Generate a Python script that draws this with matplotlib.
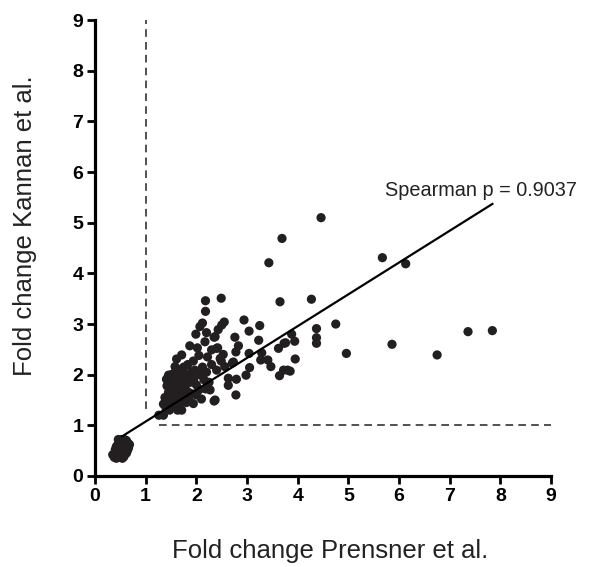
import matplotlib
matplotlib.use("Agg")
import matplotlib.pyplot as plt
import numpy as np

plt.rcParams['font.family'] = ['Liberation Sans', 'DejaVu Sans']

# Fold change values (Prensner = x, Kannan = y)
x_outer = [4.46, 3.69, 5.67, 6.13, 3.43, 3.65, 4.27, 4.37, 4.37, 4.37, 4.75, 4.96, 5.86, 6.75,
           7.36, 7.84, 3.88, 3.76, 3.94, 3.95, 3.72, 3.80, 3.85, 3.64, 3.62, 3.73]
y_outer = [5.10, 4.69, 4.31, 4.19, 4.21, 3.44, 3.49, 2.91, 2.73, 2.62, 3.00, 2.42, 2.60, 2.39,
           2.85, 2.87, 2.80, 2.63, 2.66, 2.31, 2.09, 2.09, 2.07, 1.98, 2.52, 2.62]

x_mid = [2.18, 2.49, 2.18, 2.12, 2.07, 2.55, 2.50, 2.94, 3.25, 3.04, 1.99, 2.20, 2.37, 2.43,
         2.76, 3.23, 1.87, 2.02, 2.17, 2.42, 2.78, 2.83, 3.04, 3.29, 3.41, 3.27, 3.47, 2.98,
         3.05, 2.71, 2.53, 2.49, 2.63, 2.79, 2.63, 2.78, 2.37, 2.27, 2.10, 1.94, 1.97, 2.35,
         2.73, 2.47, 2.56, 2.40, 2.35, 1.94, 1.63, 1.26, 1.35, 1.41, 1.61, 1.71, 2.30, 2.40,
         1.58, 1.45, 1.71]
y_mid = [3.46, 3.51, 3.25, 3.02, 2.95, 3.04, 2.98, 3.08, 2.97, 2.86, 2.80, 2.83, 2.75, 2.89,
         2.74, 2.68, 2.57, 2.53, 2.65, 2.53, 2.45, 2.57, 2.42, 2.43, 2.29, 2.29, 2.16, 1.99,
         2.14, 2.23, 2.40, 2.27, 1.93, 1.91, 1.79, 1.60, 1.50, 1.70, 1.52, 2.27, 2.09, 2.74,
         2.25, 2.32, 2.16, 2.09, 1.48, 1.43, 1.30, 1.20, 1.20, 1.91, 2.31, 2.39, 2.49, 2.52,
         2.16, 1.99, 1.30]

x_dense = [1.48, 1.52, 1.55, 1.60, 1.63, 1.67, 1.70, 1.74, 1.78, 1.82, 1.85, 1.88, 1.55, 1.50,
           1.42, 1.38, 1.45, 1.60, 1.65, 1.72, 1.80, 1.58, 1.66, 1.75, 1.83, 1.90, 1.95, 2.00,
           2.05, 1.92, 2.08, 2.15, 2.12, 2.20, 2.25, 2.30, 2.22, 2.05, 1.53, 1.68, 1.48, 1.42,
           1.57, 1.78, 1.85, 2.00, 2.18, 1.50, 1.62, 1.75, 1.35, 1.40, 1.47]
y_dense = [1.81, 1.75, 1.88, 1.70, 1.95, 1.82, 1.60, 1.90, 1.75, 1.98, 1.65, 1.85, 1.60, 1.52,
           1.45, 1.55, 1.65, 1.48, 1.40, 1.52, 1.45, 2.05, 2.10, 2.15, 2.20, 2.05, 1.92, 1.80,
           1.70, 1.62, 2.00, 1.90, 2.15, 2.05, 1.85, 2.20, 2.35, 2.38, 1.38, 1.68, 1.92, 1.78,
           1.95, 1.58, 1.50, 1.60, 1.72, 2.00, 1.62, 2.02, 1.42, 1.35, 1.30]

x_low = [0.38, 0.42, 0.45, 0.40, 0.48, 0.50, 0.44, 0.47, 0.52, 0.55, 0.53, 0.58, 0.60, 0.56,
         0.50, 0.45, 0.48, 0.52, 0.55, 0.60, 0.63, 0.65, 0.62, 0.58, 0.66, 0.42, 0.40, 0.57,
         0.62, 0.68, 0.35, 0.46, 0.54, 0.64, 0.50]
y_low = [0.37, 0.35, 0.42, 0.45, 0.38, 0.45, 0.50, 0.55, 0.52, 0.48, 0.40, 0.45, 0.52, 0.58,
         0.60, 0.62, 0.68, 0.72, 0.65, 0.62, 0.58, 0.65, 0.70, 0.72, 0.55, 0.58, 0.52, 0.38,
         0.45, 0.62, 0.42, 0.72, 0.35, 0.50, 0.66]

fit_x = [0.52, 7.86]
fit_slope = 0.628
fit_intercept = 0.447

xs = x_outer + x_mid + x_dense + x_low
ys = y_outer + y_mid + y_dense + y_low

fig = plt.figure(figsize=(6.09, 5.67), dpi=100)
ax = fig.add_axes([0.156, 0.1605, 0.749, 0.804])

dot = '#231f20'
ax.scatter(xs, ys, s=44, color=dot, edgecolors='none', zorder=3, clip_on=False)

fx = np.array(fit_x)
ax.plot(fx, fit_intercept + fit_slope * fx, color='black', lw=1.6, zorder=4, solid_capstyle='butt')

ax.plot([1, 1], [1.32, 9], color='#222222', lw=1.1, linestyle=(0, (5, 3.4)), zorder=2)
ax.plot([1.26, 9], [1, 1], color='#222222', lw=1.1, linestyle=(0, (5, 3.4)), zorder=2)

ax.text(5.72, 5.64, 'Spearman p = 0.9037', fontsize=14.3, color='#222222', va='center', ha='left')

ax.set_xlim(0, 9)
ax.set_ylim(0, 9)
ax.set_xticks(range(10))
ax.set_yticks(range(10))
for sp in ['top', 'right']:
    ax.spines[sp].set_visible(False)
for sp in ['left', 'bottom']:
    ax.spines[sp].set_linewidth(2.3)
    ax.spines[sp].set_color('black')
ax.tick_params(direction='out', length=5.5, width=2.0, labelsize=14, pad=3, colors='black')
for lab in ax.get_xticklabels() + ax.get_yticklabels():
    lab.set_fontweight('bold')

ax.set_xlabel('Fold change Prensner et al.', fontsize=18.5, color='#222222')
ax.set_ylabel('Fold change Kannan et al.', fontsize=18.5, color='#222222')
ax.xaxis.set_label_coords(0.515, -0.138)
ax.yaxis.set_label_coords(-0.127, 0.55)

fig.savefig('out.png', dpi=100)
